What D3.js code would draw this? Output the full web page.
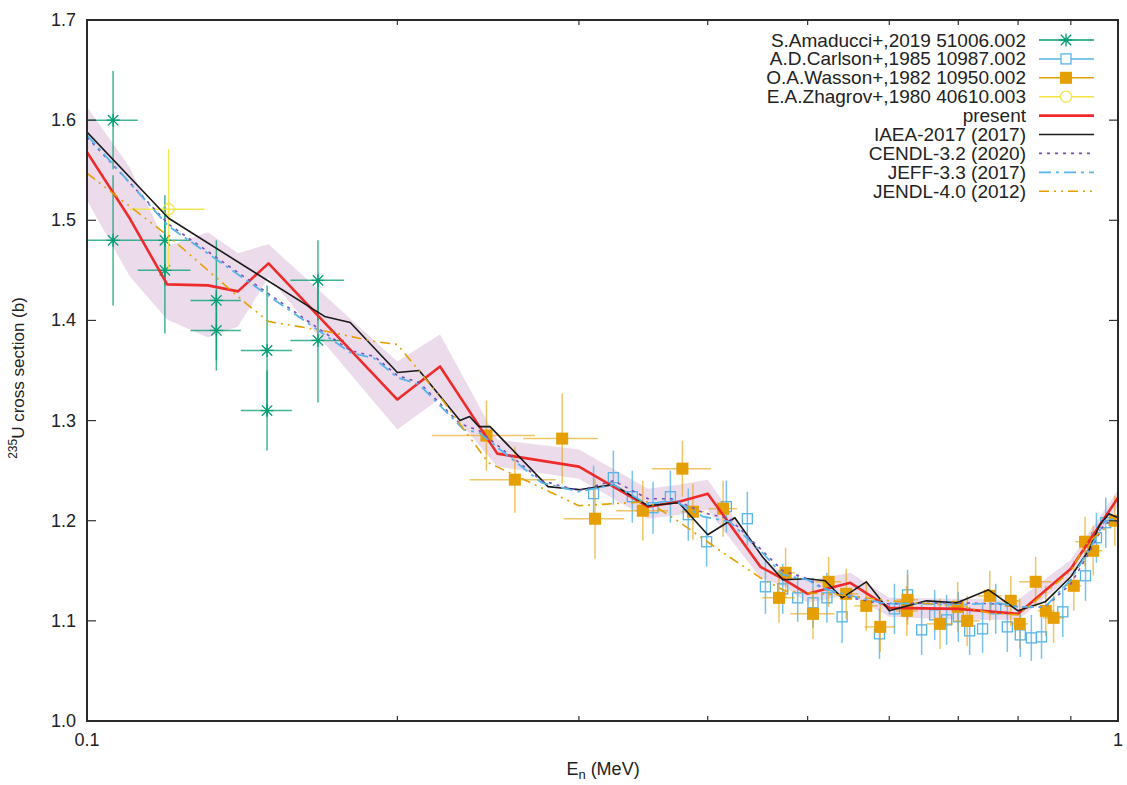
<!DOCTYPE html>
<html><head><meta charset="utf-8">
<script src="https://cdn.jsdelivr.net/npm/d3@7"></script>
<style>
body{margin:0;background:#fff}
text{font-family:"Liberation Sans",Arial,Helvetica,sans-serif;fill:#222}
</style>
</head><body>
<svg id="chart" width="1127" height="785"></svg>
<script>
// ---------- data ----------
const xTicksMajor = [0.1, 1];
const xTicksMinor = [0.2,0.3,0.4,0.5,0.6,0.7,0.8,0.9];
const yTicks = [1.0,1.1,1.2,1.3,1.4,1.5,1.6,1.7];

// S.Amaducci+,2019 51006.002
const amaE  = [0.106,0.106,0.119,0.119,0.1335,0.1335,0.1495,0.1495,0.1675,0.1675];
const amaY  = [1.600,1.480,1.480,1.450,1.420,1.390,1.370,1.310,1.440,1.380];
const amaDY = [0.049,0.065,0.045,0.063,0.060,0.040,0.065,0.040,0.040,0.062];
const amaDX = [0.006,0.006,0.007,0.007,0.0075,0.0075,0.0085,0.0085,0.010,0.010];

// A.D.Carlson+,1985 10987.002
const carE  = [0.310,0.324,0.338,0.354,0.368,0.383,0.399,0.417,0.437,0.455,0.473,0.489,0.506,0.522,0.540,0.587,0.607,0.625,0.645,0.664,0.682,0.700,0.718,0.739,0.761,0.781,0.804,0.824,0.843,0.884,0.930,0.953,0.973];
const carY  = [1.227,1.243,1.224,1.213,1.224,1.206,1.179,1.214,1.202,1.134,1.132,1.123,1.118,1.123,1.104,1.087,1.112,1.126,1.091,1.106,1.101,1.104,1.090,1.092,1.112,1.094,1.086,1.083,1.084,1.109,1.145,1.183,1.198];
const carDY = [0.028,0.027,0.026,0.026,0.026,0.026,0.025,0.026,0.027,0.027,0.025,0.024,0.025,0.025,0.026,0.025,0.025,0.025,0.025,0.025,0.025,0.025,0.024,0.024,0.025,0.025,0.022,0.023,0.022,0.025,0.025,0.025,0.025];

// O.A.Wasson+,1982 10950.002
const wasE  = [0.244,0.260,0.289,0.311,0.346,0.378,0.387,0.414,0.469,0.476,0.506,0.524,0.545,0.570,0.588,0.624,0.625,0.672,0.699,0.714,0.751,0.787,0.803,0.832,0.851,0.866,0.906,0.929,0.946,0.993];
const wasY  = [1.285,1.241,1.282,1.202,1.210,1.252,1.209,1.212,1.123,1.148,1.107,1.139,1.127,1.115,1.094,1.110,1.121,1.097,1.114,1.100,1.125,1.120,1.097,1.139,1.110,1.103,1.135,1.179,1.170,1.200];
const wasDY = [0.035,0.033,0.045,0.040,0.030,0.028,0.028,0.028,0.025,0.025,0.025,0.025,0.025,0.025,0.025,0.025,0.025,0.025,0.025,0.025,0.025,0.025,0.025,0.025,0.025,0.025,0.025,0.025,0.025,0.025];
const wasDX = [0.028,0.025,0.024,0.021,0.020,0.025,0.010,0.013,0.017,0.010,0.025,0.015,0.015,0.015,0.020,0.015,0.015,0.020,0.015,0.020,0.020,0.015,0.015,0.030,0.015,0.020,0.015,0.020,0.020,0.020];

// E.A.Zhagrov+,1980 40610.003
const zhaE  = [0.120];
const zhaY  = [1.511];
const zhaDY = [0.060];
const zhaDX = [0.010];

// present evaluation with uncertainty band
const preE  = [0.1,0.11,0.1196,0.131,0.1401,0.15,0.2,0.22,0.25,0.3,0.35,0.375,0.4,0.45,0.475,0.5,0.55,0.6,0.7,0.8,0.9,1.0];
const preY  = [1.568,1.502,1.436,1.435,1.429,1.457,1.321,1.354,1.267,1.254,1.214,1.219,1.227,1.154,1.141,1.127,1.138,1.113,1.112,1.107,1.152,1.223];
const preHi = [1.613,1.553,1.474,1.488,1.467,1.476,1.359,1.386,1.281,1.271,1.232,1.236,1.241,1.165,1.146,1.140,1.148,1.123,1.122,1.121,1.161,1.231];
const preLo = [1.520,1.444,1.401,1.383,1.394,1.443,1.291,1.322,1.254,1.242,1.202,1.206,1.211,1.143,1.134,1.118,1.126,1.104,1.101,1.101,1.144,1.214];

// IAEA-2017 (2017)
const iaeaE = [0.1,0.12,0.17,0.18,0.2,0.21,0.23,0.235,0.24,0.246,0.28,0.3,0.324,0.35,0.375,0.4,0.425,0.452,0.473,0.5,0.52,0.54,0.57,0.6,0.652,0.698,0.749,0.8,0.85,0.9,0.9375,0.96,0.98,1.0];
const iaeaY = [1.588,1.502,1.404,1.398,1.348,1.350,1.300,1.304,1.294,1.294,1.234,1.231,1.236,1.215,1.218,1.186,1.203,1.164,1.141,1.142,1.140,1.123,1.139,1.110,1.120,1.118,1.131,1.110,1.119,1.144,1.171,1.196,1.207,1.203];

// CENDL-3.2 (2020)
const cenE = [0.1,0.12,0.18,0.19,0.2,0.21,0.23,0.24,0.276,0.3,0.324,0.35,0.37,0.396,0.42,0.452,0.473,0.5,0.515,0.545,0.59,0.7,0.765,0.8,0.85,0.9,0.9375,0.97,1.0];
const cenY = [1.583,1.496,1.370,1.364,1.345,1.338,1.297,1.290,1.240,1.230,1.240,1.222,1.222,1.208,1.202,1.170,1.150,1.142,1.134,1.124,1.117,1.118,1.117,1.114,1.114,1.137,1.168,1.197,1.200];

// JEFF-3.3 (2017)
const jefE = [0.1,0.12,0.18,0.19,0.2,0.21,0.232,0.24,0.276,0.3,0.324,0.35,0.37,0.396,0.42,0.452,0.473,0.5,0.515,0.545,0.59,0.7,0.765,0.8,0.85,0.9,0.9375,0.97,1.0];
const jefY = [1.585,1.494,1.368,1.362,1.343,1.336,1.291,1.288,1.238,1.229,1.236,1.216,1.221,1.204,1.199,1.168,1.146,1.141,1.133,1.126,1.118,1.116,1.118,1.114,1.114,1.141,1.171,1.199,1.203];

// JENDL-4.0 (2012)
const jenE = [0.1,0.12,0.143,0.15,0.171,0.19,0.2,0.22,0.245,0.3,0.35,0.375,0.41,0.45,0.475,0.5,0.55,0.6,0.7,0.75,0.8,0.85,0.9,0.93,0.96,1.0];
const jenY = [1.547,1.484,1.416,1.399,1.389,1.379,1.376,1.324,1.258,1.215,1.219,1.199,1.171,1.143,1.130,1.128,1.125,1.120,1.115,1.108,1.106,1.128,1.150,1.176,1.188,1.203];

const legendLabels = ["S.Amaducci+,2019 51006.002","A.D.Carlson+,1985 10987.002","O.A.Wasson+,1982 10950.002","E.A.Zhagrov+,1980 40610.003","present","IAEA-2017 (2017)","CENDL-3.2 (2020)","JEFF-3.3 (2017)","JENDL-4.0 (2012)"];

// ---------- drawing ----------
const C = {green:"#009e73", blue:"#56b4e9", orange:"#e69f00", yellow:"#f0e442", red:"#ee2a2a", black:"#1a1a1a", purple:"#7a4fb5", band:"#ebdbeb"};
const svg = d3.select("#chart");
const L=87, R=1118, T=20, B=721;
const x = d3.scaleLog().domain([0.1,1]).range([L,R]);
const y = d3.scaleLinear().domain([1.0,1.7]).range([B,T]);

svg.append("defs").append("clipPath").attr("id","clip")
  .append("rect").attr("x",L).attr("y",T).attr("width",R-L).attr("height",B-T);
const plot = svg.append("g").attr("clip-path","url(#clip)");

const zip = (E,Y)=>E.map((e,i)=>[e,Y[i]]);

// band
const area = d3.area().x(d=>x(d[0])).y0(d=>y(d[1])).y1(d=>y(d[2]));
plot.append("path").datum(preE.map((e,i)=>[e,preLo[i],preHi[i]]))
  .attr("d",area).attr("fill",C.band).attr("stroke","none");

function errbars(E,Y,DY,DX,color,op){
  const g=plot.append("g").attr("stroke",color).attr("stroke-opacity",op).attr("stroke-width",1.5);
  E.forEach((e,i)=>{
    g.append("line").attr("x1",x(e)).attr("x2",x(e)).attr("y1",y(Y[i]-DY[i])).attr("y2",y(Y[i]+DY[i]));
    if(DX) g.append("line").attr("x1",x(e-DX[i])).attr("x2",x(e+DX[i])).attr("y1",y(Y[i])).attr("y2",y(Y[i]));
  });
}
function star(g,cx,cy,s,color){
  const p=`M${cx-s},${cy}L${cx+s},${cy}M${cx},${cy-s}L${cx},${cy+s}M${cx-s*0.8},${cy-s*0.8}L${cx+s*0.8},${cy+s*0.8}M${cx-s*0.8},${cy+s*0.8}L${cx+s*0.8},${cy-s*0.8}`;
  g.append("path").attr("d",p).attr("stroke",color).attr("stroke-width",1.3).attr("fill","none");
}

// Amaducci
errbars(amaE,amaY,amaDY,amaDX,C.green,0.75);
const gA=plot.append("g");
amaE.forEach((e,i)=>star(gA,x(e),y(amaY[i]),6.5,C.green));

// Carlson
errbars(carE,carY,carDY,null,C.blue,0.8);
plot.append("g").selectAll("rect").data(zip(carE,carY)).join("rect")
  .attr("x",d=>x(d[0])-5).attr("y",d=>y(d[1])-5).attr("width",10).attr("height",10)
  .attr("fill","none").attr("stroke",C.blue).attr("stroke-width",1.3);

// Wasson
errbars(wasE,wasY,wasDY,wasDX,C.orange,0.6);
plot.append("g").selectAll("rect").data(zip(wasE,wasY)).join("rect")
  .attr("x",d=>x(d[0])-6).attr("y",d=>y(d[1])-6).attr("width",12).attr("height",12)
  .attr("fill",C.orange);

// Zhagrov
errbars(zhaE,zhaY,zhaDY,zhaDX,C.yellow,0.9);
plot.append("g").selectAll("circle").data(zip(zhaE,zhaY)).join("circle")
  .attr("cx",d=>x(d[0])).attr("cy",d=>y(d[1])).attr("r",5.5)
  .attr("fill","none").attr("stroke",C.yellow).attr("stroke-width",1.3);

const line = d3.line().x(d=>x(d[0])).y(d=>y(d[1]));
const curves = [
  {E:preE,Y:preY,color:C.red,w:2.6,dash:null},
  {E:iaeaE,Y:iaeaY,color:C.black,w:1.6,dash:null},
  {E:cenE,Y:cenY,color:C.purple,w:1.6,dash:"3,5"},
  {E:jefE,Y:jefY,color:C.blue,w:1.8,dash:"12,5,3,5"},
  {E:jenE,Y:jenY,color:C.orange,w:1.6,dash:"10,5,2,5,2,5"}
];
curves.forEach(c=>{
  plot.append("path").datum(zip(c.E,c.Y)).attr("d",line)
    .attr("fill","none").attr("stroke",c.color).attr("stroke-width",c.w)
    .attr("stroke-dasharray",c.dash).attr("stroke-linejoin","round");
});

// frame and ticks
const axG = svg.append("g").attr("stroke","#333").attr("stroke-width",1.2);
yTicks.forEach(v=>{
  axG.append("line").attr("x1",L).attr("x2",L+9).attr("y1",y(v)).attr("y2",y(v));
  axG.append("line").attr("x1",R).attr("x2",R-9).attr("y1",y(v)).attr("y2",y(v));
});
xTicksMinor.forEach(v=>{
  axG.append("line").attr("x1",x(v)).attr("x2",x(v)).attr("y1",B).attr("y2",B-5);
  axG.append("line").attr("x1",x(v)).attr("x2",x(v)).attr("y1",T).attr("y2",T+5);
});
svg.append("rect").attr("x",L).attr("y",T).attr("width",R-L).attr("height",B-T)
  .attr("fill","none").attr("stroke","#2a2a2a").attr("stroke-width",2);

svg.append("g").selectAll("text").data(yTicks).join("text")
  .attr("x",L-11).attr("y",d=>y(d)+6).attr("text-anchor","end")
  .attr("font-size",18).text(d=>d.toFixed(1));
svg.append("g").selectAll("text").data(xTicksMajor).join("text")
  .attr("x",d=>x(d)).attr("y",B+25).attr("text-anchor","middle")
  .attr("font-size",18).text(d=>d===1?"1":"0.1");

// axis titles
const xt = svg.append("text").attr("x",603).attr("y",775).attr("text-anchor","middle").attr("font-size",18);
xt.append("tspan").text("E");
xt.append("tspan").attr("font-size",13).attr("dy",4).text("n");
xt.append("tspan").attr("dy",-4).text(" (MeV)");
const yt = svg.append("text").attr("transform","translate(24,378) rotate(-90)").attr("text-anchor","middle").attr("font-size",17);
yt.append("tspan").attr("font-size",12).attr("dy",-7).text("235");
yt.append("tspan").attr("dy",7).text("U cross section (b)");

// legend
const lg = svg.append("g");
const rowY = i=>40+i*18.9;
const sx1=1039, sx2=1094, sm=1066;
legendLabels.forEach((t,i)=>{
  lg.append("text").attr("x",1026).attr("y",rowY(i)+6.5).attr("text-anchor","end").attr("font-size",19).text(t);
});
// sample lines
[[C.green,1.5,null],[C.blue,1.5,null],[C.orange,1.5,null],[C.yellow,1.5,null],[C.red,2.6,null],[C.black,1.6,null],[C.purple,1.6,"3,5"],[C.blue,1.8,"12,5,3,5"],[C.orange,1.6,"10,5,2,5,2,5"]]
.forEach((s,i)=>{
  lg.append("line").attr("x1",sx1).attr("x2",sx2).attr("y1",rowY(i)).attr("y2",rowY(i))
    .attr("stroke",s[0]).attr("stroke-width",s[1]).attr("stroke-dasharray",s[2]);
});
star(lg,sm,rowY(0),6.5,C.green);
lg.append("rect").attr("x",sm-5).attr("y",rowY(1)-5).attr("width",10).attr("height",10).attr("fill","#fff").attr("stroke",C.blue).attr("stroke-width",1.3);
lg.append("rect").attr("x",sm-6).attr("y",rowY(2)-6).attr("width",12).attr("height",12).attr("fill",C.orange);
lg.append("circle").attr("cx",sm).attr("cy",rowY(3)).attr("r",5.5).attr("fill","#fff").attr("stroke",C.yellow).attr("stroke-width",1.3);
</script>
</body></html>
